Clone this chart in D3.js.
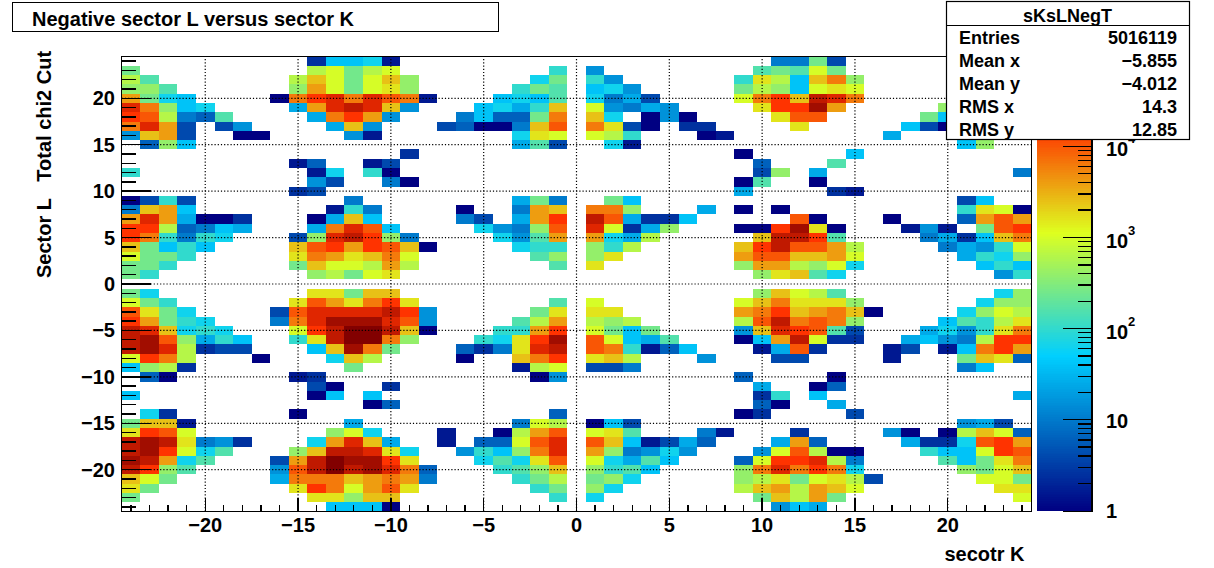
<!DOCTYPE html>
<html><head><meta charset="utf-8">
<script src="https://cdn.jsdelivr.net/npm/d3@7"></script>
<style>
html,body{margin:0;padding:0;background:#fff}
svg{display:block}
text{font-family:"Liberation Sans",Arial,sans-serif;font-weight:bold;fill:#000}
</style></head><body>
<svg id="c" width="1214" height="568"></svg>
<script>
// Each row: y bin, then runs of [first x bin, one letter per cell]. a = 1 count ... z = 1e5 counts (log steps of 0.2 decades).
const rowCells = [
[24,[[-14,"ciijb"],[11,"ffmd"]]],
[23,[[-24,"m"],[-14,"opmop"],[-1,"k"],[1,"g"],[10,"lmlpm"]]],
[22,[[-24,"ol"],[-15,"orpmprn"],[-2,"jm"],[1,"kg"],[9,"kqoirtn"]]],
[21,[[-24,"nnl"],[-15,"nspmpqn"],[-3,"kml"],[1,"ijg"],[9,"monipqp"]]],
[20,[[-24,"smji"],[-16,"atvwtwutb"],[-4,"ijil"],[1,"jfhd"],[9,"ptvrxwt"]]],
[19,[[-24,"wtnij"],[-15,"hswxwrg"],[-5,"ijhkr"],[1,"pgfhg"],[10,"qvvys"],[20,"n"]]],
[18,[[-24,"vuofel"],[-14,"htvsg"],[-6,"fieemt"],[1,"rj"],[4,"aga"],[11,"quu"],[19,"mi"]]],
[17,[[-24,"twsd"],[-19,"dg"],[-13,"hrg"],[-7,"deaafru"],[1,"tqda"],[6,"cc"],[12,"q"],[18,"ida"]]],
[16,[[-24,"grsd"],[-18,"aa"],[-12,"gb"],[-3,"jqp"],[1,"pok"],[7,"ab"],[17,"h"]]],
[15,[[-23,"eni"],[-3,"hld"],[2,"jb"],[21,"in"]]],
[14,[[-9,"c"],[9,"a"],[15,"i"]]],
[13,[[-15,"be"],[-11,"bd"],[10,"e"],[14,"l"]]],
[12,[[-24,"k"],[-14,"bj"],[-11,"ka"],[10,"dn"],[13,"h"],[24,"f"]]],
[11,[[-14,"gd"],[-10,"fa"],[9,"al"],[13,"a"]]],
[10,[[-15,"cd"],[9,"h"],[14,"cb"]]],
[9,[[-24,"adkd"],[-12,"f"],[-3,"hmf"],[2,"mi"],[21,"di"]]],
[8,[[-24,"frsi"],[-13,"bkf"],[-6,"a"],[-3,"fsr"],[1,"ttn"],[7,"h"],[9,"a"],[11,"a"],[21,"kqpa"]]],
[7,[[-24,"swshaac"],[-14,"ahri"],[-6,"fd"],[-3,"hsv"],[1,"xuhcci"],[12,"ua"],[17,"a"],[21,"esus"]]],
[6,[[-24,"vvoefih"],[-14,"htwui"],[-5,"jgfnu"],[1,"wpchn"],[9,"aavyqa"],[18,"bgb"],[22,"muv"]]],
[5,[[-24,"vtkfkj"],[-15,"dnwxvnf"],[-4,"jgls"],[1,"sjho"],[10,"rxxvl"],[19,"fhcirt"]]],
[4,[[-24,"rmiki"],[-15,"ruvsvura"],[-3,"jkk"],[1,"nko"],[9,"rvxuuso"],[20,"fhgkp"]]],
[3,[[-24,"pmmk"],[-15,"qtsqrtp"],[-2,"ln"],[1,"nq"],[9,"suurrsp"],[21,"hkjn"]]],
[2,[[-24,"mmk"],[-15,"mrpposo"],[-1,"l"],[1,"q"],[9,"nssonpj"],[22,"iki"]]],
[1,[[-24,"mk"],[-14,"nompq"],[10,"nqrlj"],[23,"gk"]]],
[-1,[[-24,"mj"],[-14,"qqmrr"],[10,"nrpol"],[23,"jn"]]],
[-2,[[-24,"pmk"],[-15,"qusqtvq"],[-1,"l"],[1,"p"],[9,"prtqqqn"],[22,"jnn"]]],
[-3,[[-24,"uqmj"],[-16,"duwwwwxvg"],[-2,"mq"],[1,"qq"],[9,"stvrstra"],[21,"jnpo"]]],
[-4,[[-24,"vsmkj"],[-16,"ftwyyywug"],[-3,"los"],[1,"ono"],[9,"ouxtutn"],[20,"ilkoq"]]],
[-5,[[-24,"xwrjkj"],[-15,"pvxzzxra"],[-4,"kksv"],[1,"pmim"],[9,"grwvuld"],[19,"hjgkqt"]]],
[-6,[[-24,"xyunhki"],[-15,"kqxzztn"],[-5,"kjqvy"],[1,"upihl"],[9,"aisxpcc"],[18,"higfovv"]]],
[-7,[[-24,"xywocdd"],[-14,"irytm"],[-6,"ecfqwx"],[1,"utkbei"],[10,"bhuc"],[17,"bd"],[20,"bitvs"]]],
[-8,[[-24,"pvto"],[-17,"a"],[-13,"jro"],[-6,"a"],[-3,"rtv"],[1,"qro"],[7,"g"],[11,"dd"],[17,"b"],[21,"mrqe"]]],
[-9,[[-24,"inoc"],[-12,"m"],[-3,"bop"],[1,"ddf"],[21,"fi"]]],
[-10,[[-23,"ea"],[-15,"bc"],[-2,"ag"],[9,"e"],[14,"a"]]],
[-11,[[-14,"da"],[-10,"c"],[10,"h"],[13,"ae"]]],
[-12,[[-24,"i"],[-14,"ai"],[-11,"i"],[10,"ck"],[13,"i"],[24,"h"]]],
[-13,[[-11,"ae"],[10,"ea"],[14,"h"]]],
[-14,[[-23,"jc"],[-15,"a"],[-1,"e"],[9,"ac"],[15,"d"]]],
[-15,[[-24,"mrrb"],[-12,"h"],[-3,"fpo"],[1,"aid"],[21,"ghd"]]],
[-16,[[-24,"qvup"],[-13,"npj"],[-7,"b"],[-4,"aosu"],[1,"pql"],[7,"fb"],[12,"c"],[17,"ga"],[20,"aorpe"]]],
[-17,[[-24,"xyxqfgc"],[-14,"jswrh"],[-7,"b"],[-5,"eepuw"],[1,"uribdhe"],[11,"hse"],[18,"hccjuvs"]]],
[-18,[[-24,"xyvpjl"],[-15,"nrxxwqj"],[-6,"gkintw"],[1,"snfgjg"],[10,"gpuoaa"],[19,"kiipvu"]]],
[-19,[[-24,"yxsjl"],[-16,"dsxzyyvq"],[-5,"jljqu"],[1,"pjhli"],[9,"epvvwof"],[20,"limqt"]]],
[-20,[[-24,"xvnl"],[-16,"guxzxywte"],[-4,"klnr"],[1,"nkli"],[9,"ntwtvtj"],[21,"nmpr"]]],
[-21,[[-24,"rpm"],[-16,"htttrstsf"],[-3,"kmo"],[1,"mnj"],[9,"noqmpqod"],[22,"ppm"]]],
[-22,[[-24,"qm"],[-15,"qvtpsuq"],[-2,"km"],[1,"nj"],[9,"orsosrp"],[23,"qq"]]],
[-23,[[-24,"m"],[-14,"qqnrr"],[-1,"k"],[1,"j"],[10,"mrosm"],[24,"p"]]],
[-24,[[-13,"iiia"],[11,"gih"]]]
];
const xDomain = [-24.5, 24.5];
const yDomain = [-24.5, 24.5];
const zDomain = [1, 1e5];
const xMajor = [-20,-15,-10,-5,0,5,10,15,20];
const yMajor = [-20,-15,-10,-5,0,5,10,15,20];
const zDecades = [1,10,100,1000,10000];
const paletteStops = [0,0.34,0.61,0.84,1];
const paletteColors = ["rgb(0,0,130)","rgb(0,207,255)","rgb(222,255,31)","rgb(255,51,0)","rgb(130,0,0)"];
const titleText = "Negative sector L versus sector K";
const statsName = "sKsLNegT";
const statsRows = [["Entries","5016119"],["Mean x","\u22125.855"],["Mean y","\u22124.012"],["RMS x","14.3"],["RMS y","12.85"]];

const svg = d3.select("#c");
const x = d3.scaleLinear().domain(xDomain).range([121.7,1031.3]);
const y = d3.scaleLinear().domain(yDomain).range([511.5,56.5]);
const z = d3.scaleLog().domain(zDomain).range([0,1]);
const zY = d3.scaleLog().domain(zDomain).range([510.8,55.3]);
const pal = d3.scaleLinear().domain(paletteStops).range(paletteColors).interpolate(d3.interpolateRgb);
const levelValue = c => Math.pow(10, (c.charCodeAt(0)-97)*0.2);

const cells = [];
rowCells.forEach(([yb,runs]) => runs.forEach(([x0,s]) => Array.from(s).forEach((c,i)=>cells.push({x:x0+i,y:yb,v:levelValue(c)}))));

svg.append("g").attr("shape-rendering","crispEdges").selectAll("rect").data(cells).join("rect")
 .attr("x",d=>x(d.x-.5)).attr("y",d=>y(d.y+.5))
 .attr("width",d=>x(d.x+.5)-x(d.x-.5)).attr("height",d=>y(d.y-.5)-y(d.y+.5))
 .attr("fill",d=>pal(z(d.v)));

// grid
const grid = svg.append("g").attr("stroke","#000").attr("stroke-width",1.2).attr("stroke-dasharray","1.2 2").attr("fill","none");
xMajor.forEach(v=>grid.append("line").attr("x1",x(v)).attr("x2",x(v)).attr("y1",y.range()[0]).attr("y2",y.range()[1]));
yMajor.forEach(v=>grid.append("line").attr("x1",x.range()[0]).attr("x2",x.range()[1]).attr("y1",y(v)).attr("y2",y(v)));

// ticks and frame
const axes = svg.append("g").attr("stroke","#000").attr("stroke-width",1.3).attr("fill","none").attr("shape-rendering","crispEdges");
d3.range(-24,25).forEach(v=>{
  const len = v%5===0?14:7;
  axes.append("line").attr("x1",x(v)).attr("x2",x(v)).attr("y1",511.5).attr("y2",511.5-len);
  const l2 = v%5===0?29:14;
  axes.append("line").attr("x1",121.7).attr("x2",121.7+l2).attr("y1",y(v)).attr("y2",y(v));
});
axes.append("rect").attr("x",x.range()[0]).attr("y",56.5).attr("width",x.range()[1]-x.range()[0]).attr("height",455);

// axis labels
const fmt = v => (v<0?"\u2212":"")+Math.abs(v);
svg.append("g").selectAll("text").data(xMajor).join("text")
 .attr("x",v=>x(v)).attr("y",532).attr("text-anchor","middle").attr("font-size",20).text(fmt);
svg.append("g").selectAll("text").data(yMajor).join("text")
 .attr("x",115).attr("y",v=>y(v)+7).attr("text-anchor","end").attr("font-size",20).text(fmt);
svg.append("text").attr("x",1024.5).attr("y",561).attr("text-anchor","end").attr("font-size",20).text("secotr K");
svg.append("text").attr("transform","translate(51,278) rotate(-90)").attr("font-size",20).attr("xml:space","preserve").style("white-space","pre").text("Sector L   Total chi2 Cut");

// colour bar
const zVals = d3.range(0,256).map(i=>Math.pow(10,5*i/256));
const zVals2 = d3.range(1,257).map(i=>Math.pow(10,5*i/256));
svg.append("g").attr("shape-rendering","crispEdges").selectAll("rect").data(zVals).join("rect")
 .attr("x",1037).attr("width",55).attr("y",(d,i)=>zY(zVals2[i])).attr("height",(d,i)=>zY(d)-zY(zVals2[i])+.6)
 .attr("fill",d=>pal(z(d*1.01)));
const zAxis = svg.append("g").attr("stroke","#000").attr("stroke-width",1.3).attr("shape-rendering","crispEdges");
zAxis.append("line").attr("x1",1092).attr("x2",1092).attr("y1",56.5).attr("y2",511.5);
zAxis.append("line").attr("x1",1063).attr("x2",1092).attr("y1",511.5).attr("y2",511.5);
zDecades.forEach(dec=>d3.range(1,10).forEach(m=>{
  const v=dec*m; const len=m===1?29:14;
  if(v>1) zAxis.append("line").attr("x1",1092-len).attr("x2",1092).attr("y1",zY(v)).attr("y2",zY(v));
}));
svg.append("text").attr("x",1106).attr("y",518).attr("font-size",20).text("1");
svg.append("text").attr("x",1106).attr("y",zY(10)+8).attr("font-size",20).text("10");
zDecades.slice(2).forEach(v=>{
  svg.append("text").attr("x",1106).attr("y",zY(v)+10).attr("font-size",20).text("10");
  svg.append("text").attr("x",1128).attr("y",zY(v)-3).attr("font-size",13).text(Math.round(Math.log10(v)));
});

// title box
svg.append("rect").attr("x",12.5).attr("y",2.5).attr("width",486).attr("height",29).attr("fill","#fff").attr("stroke","#000").attr("stroke-width",1);
svg.append("text").attr("x",32).attr("y",25.5).attr("font-size",20).text(titleText);

// stats box
svg.append("rect").attr("x",946.5).attr("y",1.5).attr("width",243).attr("height",138).attr("fill","#fff").attr("stroke","#000").attr("stroke-width",1.2);
svg.append("line").attr("x1",946.5).attr("x2",1189.5).attr("y1",25.5).attr("y2",25.5).attr("stroke","#000").attr("stroke-width",1);
svg.append("text").attr("x",1067.5).attr("y",22).attr("text-anchor","middle").attr("font-size",18).text(statsName);
statsRows.forEach((r,i)=>{
  const by=44+i*23;
  svg.append("text").attr("x",959).attr("y",by).attr("font-size",18).text(r[0]);
  svg.append("text").attr("x",1177).attr("y",by).attr("text-anchor","end").attr("font-size",18).text(r[1]);
});
</script>
</body></html>
